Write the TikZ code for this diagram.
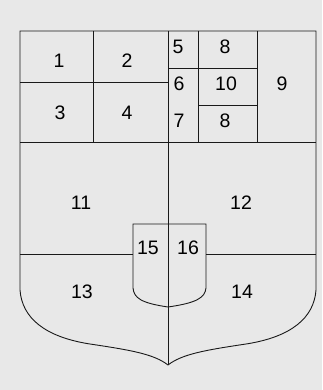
\documentclass[tikz,border=0pt]{standalone}
\usepackage{fontspec}
\setmainfont{Liberation Sans}
\usepackage{tikz}
\usetikzlibrary{calc}
\colorlet{paper}{black!9}
\colorlet{ink}{black!90}

\begin{document}
\begin{tikzpicture}[x=1pt, y=-1pt,
    num/.style={font=\fontsize{19.5}{19.5}\selectfont, text=black, inner sep=0pt},
    rim/.style={draw=ink, line width=0.9pt},
    split/.style={draw=ink, line width=0.6pt}]
      % Paper
      \fill[paper] (0,0) rectangle (322,390);
      \useasboundingbox (0,0) rectangle (322,390);
      % Outer shield
      \draw[rim] (168,365) .. controls (154,354) and (130,350) .. (90,344)
        .. controls (45,337) and (22,318) .. (20,290) -- (20,31) -- (316,31) -- (316,290)
        .. controls (314,318) and (291,337) .. (246,344)
        .. controls (206,350) and (182,354) .. (168,365);
      % Upper grid
      \draw[split] (20,142) -- (316,142);
      \draw[split] (93,31) -- (93,142);
      \draw[split] (20,82) -- (168,82);
      \draw[split] (168,31) -- (168,142);
      \draw[split] (198,31) -- (198,142);
      \draw[split] (257,31) -- (257,142);
      \draw[split] (168,68) -- (257,68);
      \draw[split] (198,105) -- (257,105);
      % Lower quarters
      \draw[split] (168,142) -- (168,365);
      \draw[split] (20,254) -- (133,254);
      \draw[split] (206,254) -- (316,254);
      % Inner shield
      \draw[rim] (133,224) -- (206,224) -- (206,288)
        .. controls (205,298) and (196,303) .. (168,307)
        .. controls (141,303) and (134,298) .. (133,288) -- cycle;
      % Numbers
      \node[num] (n1) at (59,61) {1};
      \node[num] (n2) at (127,61) {2};
      \node[num] (n3) at (60,113) {3};
      \node[num] (n4) at (127,113) {4};
      \node[num] (n5) at (178,47) {5};
      \node[num] (n6) at (179,84) {6};
      \node[num] (n7) at (179,121) {7};
      \node[num] (n8a) at (225,47) {8};
      \node[num] (n10) at (226,84) {10};
      \node[num] (n8b) at (225,121) {8};
      \node[num] (n9) at (282,84) {9};
      \node[num] (n11) at (81,203) {11};
      \node[num] (n12) at (241,203) {12};
      \node[num] (n13) at (82,292) {13};
      \node[num] (n14) at (242,292) {14};
      \node[num] (n15) at (148,248) {15};
      \node[num] (n16) at (188,248) {16};
    \end{tikzpicture}
\end{document}
